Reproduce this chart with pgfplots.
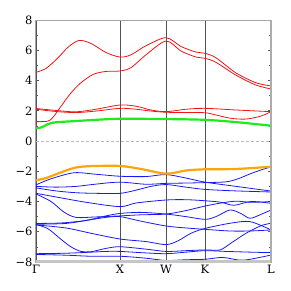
\documentclass[border=0pt]{standalone}
\usepackage{pgfplots}
\pgfplotsset{compat=1.18}
\usepackage{fontspec}
\setmainfont{DejaVu Serif}
\definecolor{bandred}{RGB}{240,20,20}
\definecolor{bandblue}{RGB}{25,25,245}
\definecolor{bandgreen}{RGB}{30,235,30}
\definecolor{bandorange}{RGB}{255,165,10}
\begin{document}
\begin{tikzpicture}
\path[use as bounding box] (-36pt,-29pt) rectangle (255pt,262pt);
\begin{axis}[
  at={(0pt,0pt)}, anchor=south west,
  scale only axis, width=235pt, height=242pt,
  xmin=0, xmax=235, ymin=-8, ymax=8,
  xtick={0,84,130,169,235}, xticklabels={{Γ},{X},{W},{K},{L}},
  ytick={-8,-6,-4,-2,0,2,4,6,8},
  yticklabels={{−8},{−6},{−4},{−2},{0},{2},{4},{6},{8}},
  minor ytick={-7,-5,-3,-1,1,3,5,7},
  tick align=inside,
  xtick style={draw=none},
  ytick style={gray!70!black, line width=0.6pt},
  major tick length=3pt, minor tick length=2pt,
  xmajorgrids, major x grid style={gray!65!black, line width=0.9pt},
  axis line style={gray!70, line width=1pt},
  ticklabel style={font=\fontsize{11.5}{13}\selectfont},
  /pgf/number format/assume math mode=true,
  clip=true,
]
\addplot[gray!55, densely dashed, line width=0.4pt] coordinates {(0,0) (235,0)};
% valence bands (blue)
\pgfplotsset{bb/.style={bandblue, line width=0.8pt, smooth, no markers}}
\addplot[bb] coordinates {(0,-2.9)(15,-2.5)(38,-2.1)(60,-2.2)(84,-2.33)(110,-2.35)(130,-2.22)(150,-2.45)(169,-2.72)(200,-3.0)(235,-3.31)};
\addplot[bb] coordinates {(0,-3.0)(20,-3.05)(40,-3.0)(60,-2.85)(84,-2.72)(110,-2.86)(130,-2.8)(150,-2.78)(169,-2.75)(190,-2.7)(202,-2.5)(215,-2.15)(228,-1.85)(235,-1.72)};
\addplot[bb] coordinates {(0,-3.1)(20,-3.3)(40,-3.42)(60,-3.46)(84,-3.46)(100,-3.25)(115,-3.0)(130,-2.88)(150,-3.05)(169,-3.2)(200,-3.3)(235,-3.37)};
\addplot[bb] coordinates {(0,-3.46)(20,-3.7)(50,-4.05)(84,-4.34)(100,-4.1)(130,-3.9)(150,-3.88)(169,-3.95)(185,-4.05)(198,-4.25)(215,-4.0)(235,-4.12)};
\addplot[bb] coordinates {(0,-3.5)(15,-4.0)(28,-4.7)(40,-5.05)(60,-5.02)(84,-4.95)(105,-4.88)(130,-4.83)(150,-4.6)(169,-4.3)(185,-4.1)(200,-3.98)(215,-4.05)(235,-4.01)};
\addplot[bb] coordinates {(0,-5.45)(25,-5.42)(50,-5.25)(70,-4.95)(84,-4.79)(105,-4.72)(130,-4.83)(150,-5.0)(169,-5.18)(180,-5.0)(194,-4.56)(205,-4.8)(214,-5.11)(225,-4.85)(235,-4.56)};
\addplot[bb] coordinates {(0,-5.5)(30,-5.45)(55,-5.2)(70,-5.05)(84,-5.0)(105,-5.3)(130,-5.62)(150,-5.75)(169,-5.84)(194,-5.95)(214,-5.95)(235,-5.88)};
\addplot[bb] coordinates {(0,-5.55)(30,-5.75)(55,-6.1)(84,-6.48)(110,-6.65)(130,-6.85)(142,-6.6)(155,-6.1)(169,-5.78)(194,-5.44)(214,-5.33)(235,-5.88)};
\addplot[bb] coordinates {(0,-5.52)(12,-5.8)(25,-6.5)(35,-7.0)(45,-7.3)(55,-7.32)(70,-7.1)(84,-6.99)(110,-7.15)(130,-7.3)(150,-7.25)(169,-7.2)(184,-7.2)(195,-6.75)(210,-6.1)(225,-5.6)(235,-5.44)};
\addplot[bb] coordinates {(0,-7.45)(30,-7.42)(55,-7.35)(70,-7.3)(84,-7.3)(110,-7.4)(130,-7.45)(150,-7.35)(169,-7.25)(190,-7.3)(215,-7.35)(235,-7.38)};
\addplot[bb] coordinates {(0,-7.5)(30,-7.55)(55,-7.62)(84,-7.62)(110,-7.75)(130,-7.9)(150,-7.85)(169,-7.82)(187,-7.7)(207,-7.88)(235,-7.54)};
% top valence band (orange)
\addplot[bandorange, line width=2.2pt, smooth] coordinates {(0,-2.6)(10,-2.45)(20,-2.2)(30,-1.95)(40,-1.75)(55,-1.66)(84,-1.65)(105,-1.85)(130,-2.16)(150,-1.95)(169,-1.87)(200,-1.85)(235,-1.7)};
% conduction bands (red)
\pgfplotsset{rr/.style={bandred, line width=0.8pt, smooth, no markers}}
\addplot[rr] coordinates {(0,4.54)(10,4.8)(22,5.5)(32,6.2)(43,6.65)(55,6.45)(70,5.85)(84,5.55)(95,5.7)(110,6.3)(130,6.83)(145,6.25)(160,5.88)(169,5.8)(180,5.5)(200,4.5)(220,3.85)(235,3.64)};
\addplot[rr] coordinates {(0,1.28)(6,1.28)(10,1.29)(14,1.38)(18,1.65)(24,2.2)(34,3.1)(44,3.8)(57,4.4)(70,4.6)(84,4.63)(95,4.85)(110,5.7)(130,6.61)(145,5.95)(160,5.55)(169,5.47)(180,5.2)(200,4.35)(220,3.7)(235,3.44)};
\addplot[rr] coordinates {(0,2.15)(20,2.02)(40,1.93)(60,2.1)(84,2.38)(100,2.3)(115,2.05)(130,1.94)(150,2.1)(169,2.16)(200,2.05)(235,1.94)};
\addplot[rr] coordinates {(0,2.1)(20,1.95)(40,1.88)(60,1.98)(84,2.16)(100,2.1)(115,1.98)(130,1.9)(150,1.88)(169,1.87)(180,1.72)(195,1.5)(210,1.45)(225,1.65)(235,1.94)};
% lowest conduction band (green)
\addplot[bandgreen, line width=2.2pt, smooth] coordinates {(0,0.85)(4,0.88)(8,0.98)(12,1.12)(16,1.2)(22,1.25)(40,1.32)(60,1.4)(84,1.47)(130,1.45)(169,1.4)(200,1.25)(235,1.01)};
\end{axis}
\draw[gray!45, line width=3pt] (0pt,0pt) -- (235pt,0pt);
\draw[gray!65, line width=2pt] (235pt,0pt) -- (235pt,242pt);
\end{tikzpicture}
\end{document}
